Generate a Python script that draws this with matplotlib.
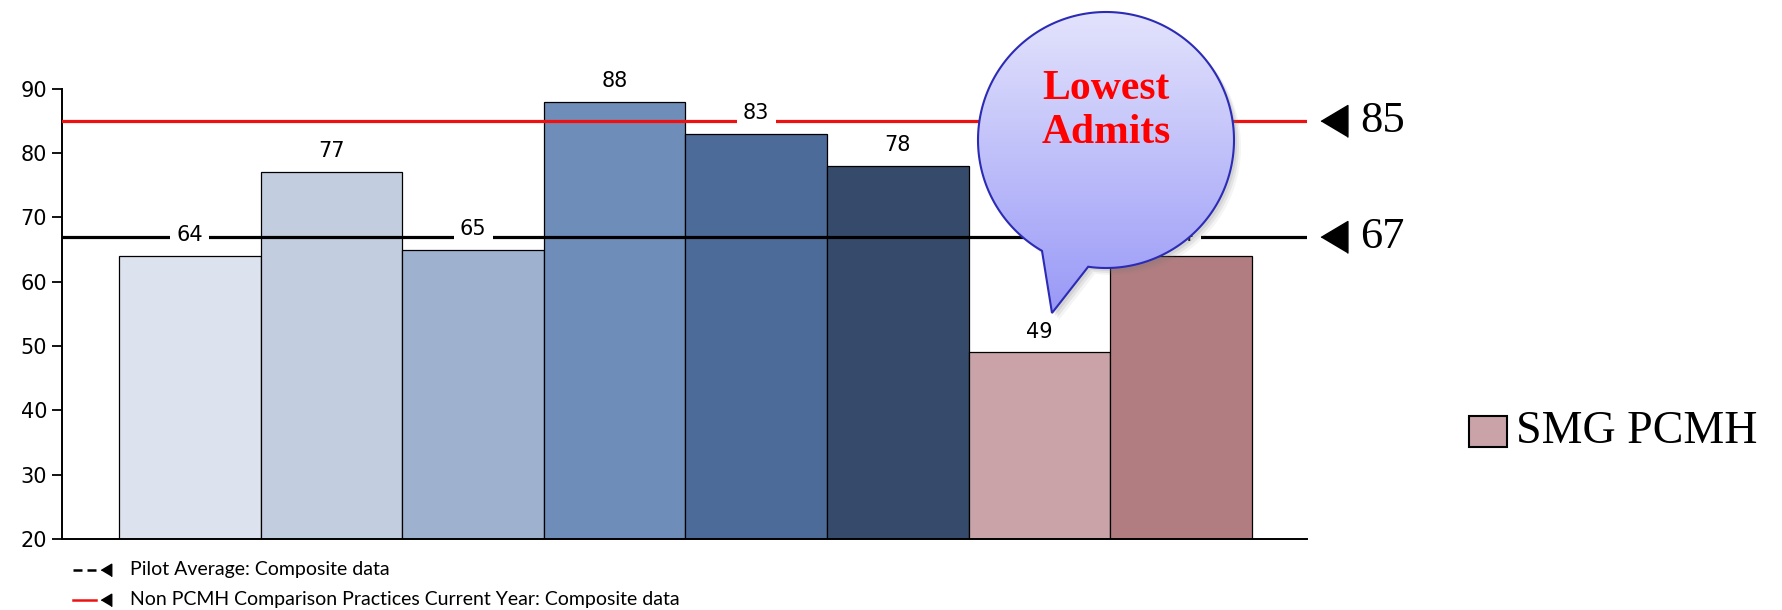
import numpy as np
import matplotlib.pyplot as plt
from matplotlib.patches import Polygon

# bar values (left to right) and their fills
values = [64, 77, 65, 88, 83, 78, 49, 64]
bar_colors = ["#DDE3EE", "#C3CDE0", "#9EB1CF", "#6E8DB9",
              "#4C6B99", "#364B6B", "#C9A3A8", "#B27D80"]

# reference lines
pilot_avg = 67
non_pcmh_avg = 85

legend_pilot = "Pilot Average: Composite data"
legend_non_pcmh = "Non PCMH Comparison Practices Current Year: Composite data"
series_name = "SMG PCMH"
callout_text = "Lowest\nAdmits"

W, H = 1783, 610
fig = plt.figure(figsize=(W / 100, H / 100), dpi=100)

# left-pointing triangle, a bit taller than wide
tri = [(-0.84, 0), (0.84, 1), (0.84, -1)]

# main axes, placed in pixel units
left, right, top, bottom = 62.5, 1307, 88.7, 539
ax = fig.add_axes([left / W, (H - bottom) / H, (right - left) / W, (bottom - top) / H])

x = np.arange(len(values))
ax.bar(x, np.array(values) - 20, bottom=20, width=1.0, color=bar_colors,
       edgecolor="black", linewidth=0.9, zorder=2)

ax.axhline(pilot_avg, color="black", linewidth=2.3, zorder=3)
ax.axhline(non_pcmh_avg, color="#EE1111", linewidth=2.3, zorder=3)

for xi, v in zip(x, values):
    ax.annotate(str(v), (xi, v), xytext=(0, 15), textcoords="offset points",
                ha="center", va="center", fontsize=15, zorder=5,
                bbox=dict(boxstyle="square,pad=0.3", fc="white", ec="none"))

ax.set_xlim(-0.9, 7.89)
ax.set_ylim(20, 90)
ax.set_yticks(np.arange(20, 91, 10))
ax.set_xticks([])
ax.tick_params(axis="y", labelsize=15, length=7, width=1.3, direction="out", pad=4)
for s in ["top", "right"]:
    ax.spines[s].set_visible(False)
for s in ["left", "bottom"]:
    ax.spines[s].set_linewidth(1.4)

# value markers to the right of the plot
trans = ax.get_yaxis_transform()
for v in [non_pcmh_avg, pilot_avg]:
    ax.plot([1.0213], [v], marker=tri, markersize=23, color="black",
            transform=trans, clip_on=False)
    ax.text(1.0426, v, str(v), transform=trans, ha="left", va="center",
            fontsize=32, family="Liberation Serif")

# overlay in pixel coordinates (y measured from top)
ov = fig.add_axes([0, 0, 1, 1])
ov.axis("off")
ov.patch.set_alpha(0)

# speech bubble: circle with a tail pointing down-left
cx, cy, r = 1106, 140, 128
theta = np.radians(np.linspace(262, 600, 240))
pts = np.column_stack([cx + r * np.cos(theta), cy - r * np.sin(theta)])
pts = np.vstack([pts, [[1052, 313]]])

for k, a in [(7, 0.08), (5, 0.12), (3, 0.15)]:
    ov.add_patch(Polygon(pts + [k, k], closed=True, fc="#777777", ec="none",
                         alpha=a, zorder=1))
bubble = Polygon(pts, closed=True, fc="none", ec="#2B2BB5", lw=1.5, zorder=4)
ov.add_patch(bubble)
grad = np.linspace(0, 1, 256)[:, None]
c_top = np.array([0.89, 0.89, 0.99])
c_bot = np.array([0.60, 0.60, 0.97])
img = c_top + grad[..., None] * (c_bot - c_top)
img = np.repeat(img, 2, axis=1)
im = ov.imshow(img, extent=(cx - r, cx + r, 313, cy - r), origin="upper",
               aspect="auto", zorder=3, interpolation="bilinear")
im.set_clip_path(bubble)
ov.set_xlim(0, W)
ov.set_ylim(H, 0)
ov.text(cx, 111, callout_text, ha="center", va="center", color="#FF0000",
        fontsize=30, fontweight="bold", family="Liberation Serif",
        linespacing=1.2, zorder=5)

# series legend on the right
ov.add_patch(plt.Rectangle((1469, 416), 38, 31, fc=bar_colors[6], ec="black", lw=1.5))
ov.text(1516, 432, series_name, ha="left", va="center", fontsize=33,
        family="Liberation Serif")

# line legend below the plot
ov.plot([73, 97], [570, 570], color="black", lw=1.8, ls=(0, (3.6, 2.0)))
ov.plot([106], [570], marker=tri, ms=9, color="black")
ov.text(130, 570, legend_pilot, ha="left", va="center", fontsize=14, family="Lato")
ov.plot([73, 96], [600, 600], color="#EE1111", lw=1.8)
ov.plot([106], [600], marker=tri, ms=9, color="black")
ov.text(130, 600, legend_non_pcmh, ha="left", va="center", fontsize=14, family="Lato")

fig.savefig("out.png", dpi=100)
